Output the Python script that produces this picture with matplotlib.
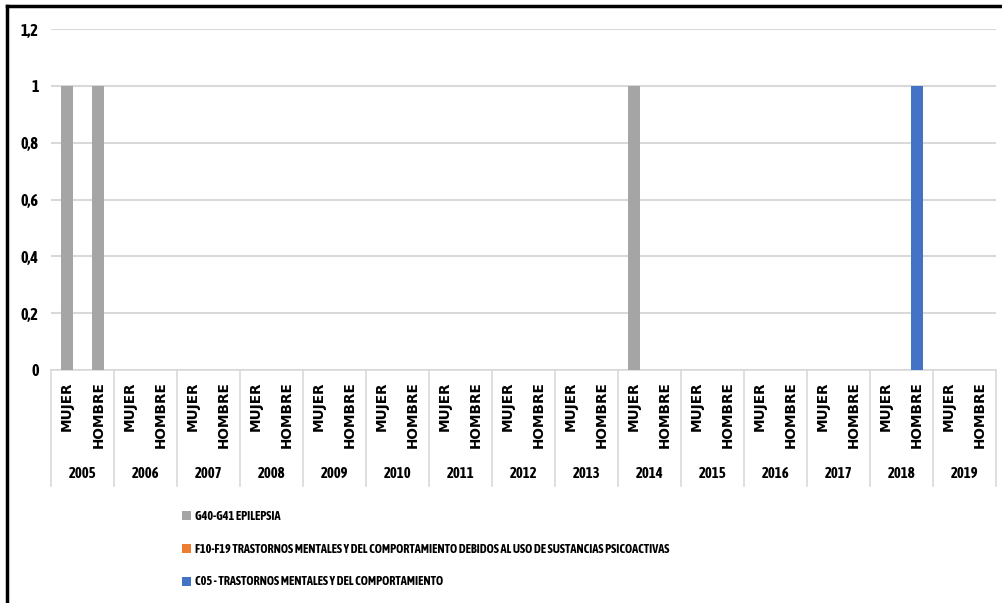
import matplotlib
matplotlib.use("Agg")
import matplotlib.pyplot as plt
from matplotlib.lines import Line2D
import numpy as np

years = ["2005", "2006", "2007", "2008", "2009", "2010", "2011", "2012",
         "2013", "2014", "2015", "2016", "2017", "2018", "2019"]
sexes = ["MUJER", "HOMBRE"]

series_names = [
    "G40-G41 EPILEPSIA",
    "F10-F19 TRASTORNOS MENTALES Y DEL COMPORTAMIENTO DEBIDOS AL USO DE SUSTANCIAS PSICOACTIVAS",
    "C05 - TRASTORNOS MENTALES Y DEL COMPORTAMIENTO",
]
series_colors = ["#a5a5a5", "#ed7d31", "#4472c4"]

# values per (year, sex): MUJER, HOMBRE for each year in order
epilepsia = [1, 1, 0, 0, 0, 0, 0, 0, 0, 0, 0, 0, 0, 0, 0, 0, 0, 0,
             1, 0, 0, 0, 0, 0, 0, 0, 0, 0, 0, 0]
sustancias = [0, 0, 0, 0, 0, 0, 0, 0, 0, 0, 0, 0, 0, 0, 0, 0, 0, 0,
              0, 0, 0, 0, 0, 0, 0, 0, 0, 0, 0, 0]
trastornos = [0, 0, 0, 0, 0, 0, 0, 0, 0, 0, 0, 0, 0, 0, 0, 0, 0, 0,
              0, 0, 0, 0, 0, 0, 0, 0, 0, 1, 0, 0]
series_values = [epilepsia, sustancias, trastornos]

NARROW = ['Asap Condensed', 'Archivo Narrow', 'DejaVu Sans']
WIDE = ['DejaVu Sans']
plt.rcParams['font.family'] = NARROW
plt.rcParams['font.weight'] = 'bold'

W, H = 1003, 603
fig = plt.figure(figsize=(W / 100, H / 100), dpi=100)
ax = fig.add_axes([51 / W, (H - 370) / H, (996 - 51) / W, (370 - 29) / H])

n = len(years) * len(sexes)
x = np.arange(n)
handles = []
for name, color, vals in zip(series_names, series_colors, series_values):
    h = ax.bar(x, vals, width=0.38, color=color, label=name, zorder=3)
    handles.append(h)

ax.set_xlim(-0.5, n - 0.5)
ax.set_ylim(0, 1.2)
ax.set_yticks(np.arange(0, 1.21, 0.2))
ax.set_yticklabels(["0", "0,2", "0,4", "0,6", "0,8", "1", "1,2"],
                   fontsize=11.5, fontweight='bold', family=NARROW)
ax.grid(axis='y', color='#d9d9d9', linewidth=1.5, zorder=0)
ax.tick_params(axis='y', length=0, pad=9)
ax.tick_params(axis='x', length=0, pad=8)
for s in ax.spines.values():
    s.set_visible(False)

ax.set_xticks(x)
ax.set_xticklabels(sexes * len(years), rotation=90, fontsize=9.8,
                   fontweight='bold', family=WIDE, va='top', ha='center')

# group separators and year labels under the sex labels
unit = 1.2 / (370 - 29)
for i in range(len(years) + 1):
    xp = i * 2 - 0.5
    ax.add_line(Line2D([xp, xp], [0, -(486 - 370) * unit], color='#d9d9d9',
                       linewidth=1.2, clip_on=False))
ax.add_line(Line2D([-0.5, n - 0.5], [0, 0], color='#d9d9d9',
                   linewidth=1.2, clip_on=False, zorder=2))
for i, yr in enumerate(years):
    ax.text(i * 2 + 0.5, -(474 - 370) * unit, yr, ha='center',
            va='center', fontsize=10.5, fontweight='bold', family=NARROW)

fig.legend(handles=handles, loc='upper left',
           bbox_to_anchor=(177 / W, 1 - 505 / H), frameon=False,
           prop={'family': NARROW, 'weight': 'bold', 'size': 8.8},
           handlelength=0.75, handleheight=0.75,
           handletextpad=0.35, labelspacing=1.62, borderaxespad=0)

# outer frame edges
fig.add_artist(Line2D([7 / W, 7 / W], [0, 1 - 6 / H], color='black',
                      linewidth=2.5, transform=fig.transFigure))
fig.add_artist(Line2D([7 / W, 1], [1 - 6 / H, 1 - 6 / H], color='black',
                      linewidth=2.5, transform=fig.transFigure))

fig.savefig("out.png", dpi=100, facecolor='white')
